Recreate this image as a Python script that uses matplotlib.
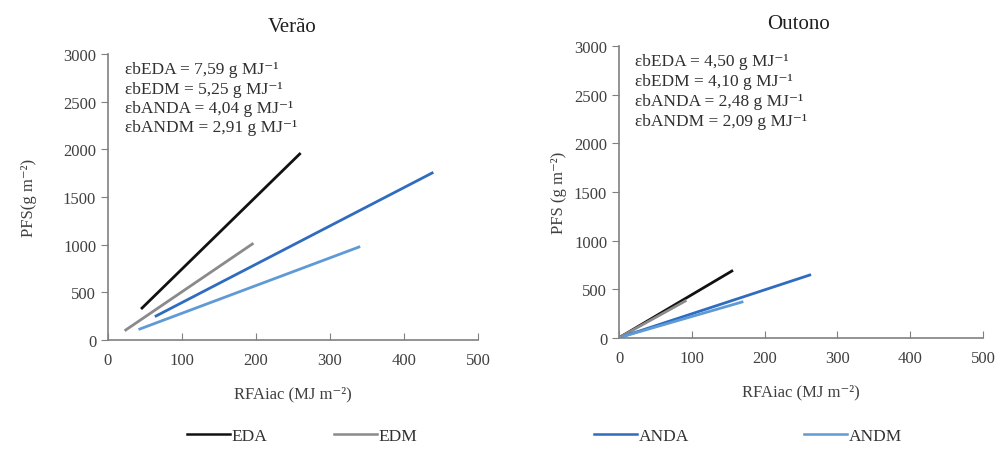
import matplotlib
matplotlib.use("Agg")
import matplotlib.pyplot as plt
from matplotlib.lines import Line2D

plt.rcParams['font.family'] = ['Liberation Serif', 'DejaVu Serif']

series = ["EDA", "EDM", "ANDA", "ANDM"]
colors = ["#111111", "#8a8a8a", "#2f6cc0", "#5d9ad6"]

# fitted lines, start and end points (x = RFAiac, y = PFS)
verao_x = [[46, 259], [24, 195], [65, 438], [43, 339]]
verao_y = [[335, 1951], [105, 1007], [252, 1752], [115, 975]]
outono_x = [[4, 155], [4, 91], [5, 262], [5, 169]]
outono_y = [[20, 688], [20, 380], [15, 647], [15, 370]]

verao_eb = ["7,59", "5,25", "4,04", "2,91"]
outono_eb = ["4,50", "4,10", "2,48", "2,09"]

fig = plt.figure(figsize=(10, 4.52), dpi=100)
ax1 = fig.add_axes([0.108, 0.2456, 0.370, 0.6327])
ax2 = fig.add_axes([0.619, 0.250, 0.364, 0.646])

panels = [
    (ax1, "Verão", verao_x, verao_y, verao_eb, "PFS(g m⁻²)", 0.292, 0.940, 19),
    (ax2, "Outono", outono_x, outono_y, outono_eb, "PFS (g m⁻²)", 0.798, 0.945, 5),
]

for ax, title, xs, ys, ebs, ylab, tx, ty, ypad in panels:
    for x, y, c in zip(xs, ys, colors):
        ax.plot(x, y, color=c, lw=2)
    ax.set_xlim(0, 500)
    ax.set_ylim(0, 3000)
    ax.set_xticks(range(0, 501, 100))
    ax.set_yticks(range(0, 3001, 500))
    for s in ["top", "right"]:
        ax.spines[s].set_visible(False)
    for s in ["left", "bottom"]:
        ax.spines[s].set_color("#808080")
        ax.spines[s].set_linewidth(1.2)
    ax.tick_params(axis="x", direction="in", length=5, color="#808080",
                   labelsize=12, labelcolor="#404040", pad=9)
    ax.tick_params(axis="y", direction="out", length=5, color="#808080",
                   labelsize=12, labelcolor="#404040")
    fig.text(tx, ty, title, fontsize=15, ha="center", va="center", color="#202020")
    ax.set_xlabel("RFAiac (MJ m⁻²)", fontsize=12, color="#404040", labelpad=12)
    ax.set_ylabel(ylab, fontsize=12, color="#404040", labelpad=ypad)
    lines = [f"εb{s} = {v} g MJ⁻¹" for s, v in zip(series, ebs)]
    for i, t in enumerate(lines):
        ax.text(0.045, 0.975 - i * 0.068, t, transform=ax.transAxes,
                fontsize=12.5, color="#303030", va="top")

# legend, entries placed where they sit in the picture
legend_x = [0.183, 0.330, 0.590, 0.800]
for lab, c, lx in zip(series, colors, legend_x):
    fig.legend([Line2D([], [], color=c, lw=1.8)], [lab], loc="center left",
               bbox_to_anchor=(lx - 0.012, 0.033), frameon=False, fontsize=12.5,
               handlelength=2.5, handletextpad=0.1, labelcolor="#303030")

fig.savefig("out.png", dpi=100)
